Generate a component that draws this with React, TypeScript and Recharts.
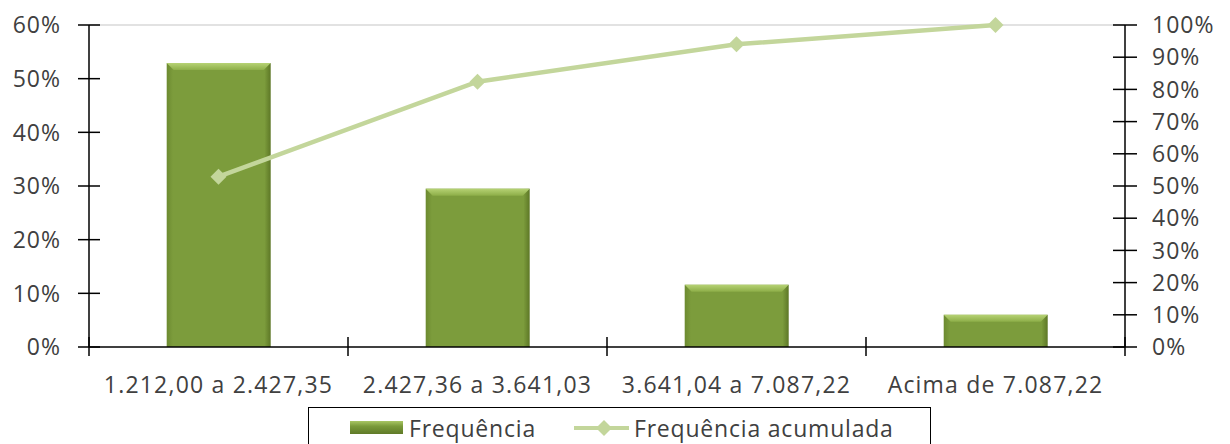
import { ComposedChart, Bar, Line, XAxis, YAxis, Legend, ReferenceLine } from 'recharts';

const categories = ['1.212,00 a 2.427,35', '2.427,36 a 3.641,03', '3.641,04 a 7.087,22', 'Acima de 7.087,22'];
const frequencia = [52.9, 29.5, 11.6, 6.0];
const acumulada = [52.9, 82.4, 94.0, 100];
const leftTicks = [0, 10, 20, 30, 40, 50, 60];
const rightTicks = [0, 10, 20, 30, 40, 50, 60, 70, 80, 90, 100];
const seriesNames = ['Frequência', 'Frequência acumulada'];

const data = categories.map((name, i) => ({ name, freq: frequencia[i], acum: acumulada[i] }));

const TEXT = '#404040';
const FONT_SIZE = 23;
const BAR_COLOR = '#7a9a3a';
const LINE_COLOR = '#c3d69b';

const LeftTick = ({ x, y, payload }: any) => (
  <g>
    <line x1={x - 11} x2={x + 11} y1={y} y2={y} stroke="#000" strokeWidth={1.5} />
    <text x={x - 28} y={y} dy="0.36em" textAnchor="end" fill={TEXT} fontSize={FONT_SIZE} letterSpacing={1}>
      {payload.value}%
    </text>
  </g>
);

const RightTick = ({ x, y, payload }: any) => (
  <g>
    <line x1={x - 12} x2={x + 12} y1={y} y2={y} stroke="#000" strokeWidth={1.5} />
    <text x={x + 27} y={y} dy="0.36em" textAnchor="start" fill={TEXT} fontSize={FONT_SIZE} letterSpacing={1}>
      {payload.value}%
    </text>
  </g>
);

// label in the middle of the band, tick marks on the band edges
const CategoryTick = ({ x, y, payload, index, width, visibleTicksCount }: any) => {
  const half = width / visibleTicksCount / 2;
  const mark = (px: number) => (
    <line x1={px} x2={px} y1={y - 10} y2={y + 9} stroke="#000" strokeWidth={1.5} />
  );
  return (
    <g>
      {mark(x - half)}
      {index === visibleTicksCount - 1 && mark(x + half)}
      <text x={x} y={y + 30} dy="0.71em" textAnchor="middle" fill={TEXT} fontSize={FONT_SIZE} letterSpacing={1.2}>
        {payload.value}
      </text>
    </g>
  );
};

const BevelBar = ({ x, y, width, height }: any) => {
  if (!height || height <= 0) return null;
  const b = Math.min(7, height / 2);
  return (
    <g>
      <rect x={x} y={y} width={width} height={height} fill="url(#barBody)" />
      <polygon
        points={`${x},${y} ${x + width},${y} ${x + width - b},${y + b} ${x + b},${y + b}`}
        fill="url(#barTop)"
      />
    </g>
  );
};

const Diamond = ({ cx, cy }: any) => {
  if (cx == null || cy == null) return null;
  const r = 8;
  return <polygon points={`${cx},${cy - r} ${cx + r},${cy} ${cx},${cy + r} ${cx - r},${cy}`} fill={LINE_COLOR} />;
};

const LegendBox = () => (
  <div
    style={{
      marginLeft: 308,
      width: 623,
      height: 37,
      border: '1.5px solid #000',
      borderBottom: 'none',
      display: 'flex',
      alignItems: 'center',
      paddingLeft: 41,
      paddingTop: 3,
      boxSizing: 'border-box',
      color: TEXT,
      fontSize: FONT_SIZE,
      letterSpacing: 0.8,
    }}
  >
    <span
      style={{
        width: 53,
        height: 13,
        background: 'linear-gradient(#a9c664, #7a9a3a 40%, #5f7a28)',
        marginRight: 6,
      }}
    />
    <span>{seriesNames[0]}</span>
    <svg width={55} height={20} style={{ marginLeft: 38, marginRight: 5 }}>
      <line x1={0} x2={55} y1={10} y2={10} stroke={LINE_COLOR} strokeWidth={4} />
      <polygon points="30,2 38,10 30,18 22,10" fill={LINE_COLOR} />
    </svg>
    <span>{seriesNames[1]}</span>
  </div>
);

export default function App() {
  return (
    <div style={{ width: 1230, height: 444, fontFamily: '"Open Sans", sans-serif', background: '#fff' }}>
      <style>{'body{margin:0}'}</style>
      <ComposedChart
        width={1230}
        height={444}
        data={data}
        barCategoryGap="30%"
        margin={{ top: 25, right: 0, bottom: 59, left: 0 }}
      >
        <defs>
          <linearGradient id="barBody" x1="0" y1="0" x2="1" y2="0">
            <stop offset="0" stopColor="#6c8a30" />
            <stop offset="0.06" stopColor="#7c9c3c" />
            <stop offset="0.94" stopColor="#7c9c3c" />
            <stop offset="1" stopColor="#5d7726" />
          </linearGradient>
          <linearGradient id="barTop" x1="0" y1="0" x2="0" y2="1">
            <stop offset="0" stopColor="#b6d274" />
            <stop offset="1" stopColor="#8dae48" />
          </linearGradient>
        </defs>
        <XAxis
          dataKey="name"
          height={1}
          axisLine={{ stroke: '#000', strokeWidth: 1.5 }}
          tickLine={false}
          tickSize={0}
          tickMargin={0}
          interval={0}
          tick={<CategoryTick />}
        />
        <YAxis
          yAxisId="left"
          width={89}
          domain={[0, 60]}
          ticks={leftTicks}
          interval={0}
          axisLine={{ stroke: '#000', strokeWidth: 1.5 }}
          tickLine={false}
          tickSize={0}
          tickMargin={0}
          tick={<LeftTick />}
        />
        <YAxis
          yAxisId="right"
          orientation="right"
          width={105}
          domain={[0, 100]}
          ticks={rightTicks}
          interval={0}
          axisLine={{ stroke: '#000', strokeWidth: 1.5 }}
          tickLine={false}
          tickSize={0}
          tickMargin={0}
          tick={<RightTick />}
        />
        <ReferenceLine yAxisId="left" y={60} stroke="#d9d9d9" strokeWidth={1.5} />
        <Bar yAxisId="left" dataKey="freq" name={seriesNames[0]} fill={BAR_COLOR} shape={<BevelBar />} isAnimationActive={false} />
        <Line
          yAxisId="right"
          dataKey="acum"
          name={seriesNames[1]}
          type="linear"
          stroke={LINE_COLOR}
          strokeWidth={4.5}
          dot={<Diamond />}
          activeDot={false}
          isAnimationActive={false}
        />
        <Legend
          verticalAlign="bottom"
          content={<LegendBox />}
          wrapperStyle={{ top: 407, bottom: 'auto', left: 0, width: 1230 }}
        />
      </ComposedChart>
    </div>
  );
}
